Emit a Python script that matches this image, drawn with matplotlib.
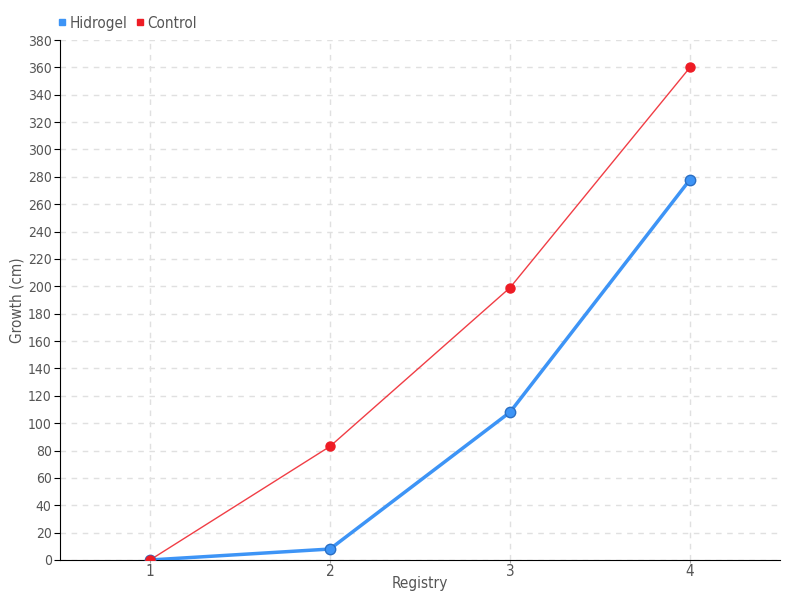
import matplotlib.pyplot as plt
from matplotlib.lines import Line2D

registry = [1, 2, 3, 4]
hidrogel = [0, 8, 108, 278]
control = [0, 83, 199, 360]
y_ticks = list(range(0, 381, 20))

blue = '#3d94f6'
red = '#ee1c25'
text_col = '#555555'

plt.rcParams['font.family'] = ['DejaVu Sans']
plt.rcParams['font.stretch'] = 'condensed'

fig = plt.figure(figsize=(8, 6), dpi=100)
ax = fig.add_axes([0.075, 0.0667, 0.9, 0.8666])

ax.plot(registry, control, color=red, lw=1, alpha=0.85, zorder=3)
ax.plot(registry, hidrogel, color=blue, lw=2.5, zorder=5)
ax.plot(registry, hidrogel, 'o', color=blue, ms=7.5, mec='#2a6fc4', mew=1, zorder=6)
ax.plot(registry, control, 'o', color=red, ms=6.5, mec=red, zorder=7)

ax.set_xlim(0.5, 4.5)
ax.set_ylim(0, 380)
ax.set_xticks(registry)
ax.set_yticks(y_ticks)
ax.grid(True, color='#e0e0e0', ls=(0, (4, 4)), lw=1)
ax.set_axisbelow(True)
for s in ['top', 'right']:
    ax.spines[s].set_visible(False)
ax.spines['left'].set_color('black')
ax.spines['bottom'].set_color('black')
ax.tick_params(axis='y', length=4, pad=2, colors='black', labelcolor=text_col, labelsize=10)
ax.tick_params(axis='x', length=2, pad=1, colors='#aaaaaa', labelcolor=text_col, labelsize=11)
ax.set_xlabel('Registry', color=text_col, fontsize=11, labelpad=-2)
ax.set_ylabel('Growth (cm)', color=text_col, fontsize=11)
ax.yaxis.set_label_coords(-0.049, 0.5)

handles = [Line2D([], [], ls='', marker='s', color=blue, ms=4.5),
           Line2D([], [], ls='', marker='s', color=red, ms=4.5)]
fig.legend(handles, ['Hidrogel', 'Control'], loc='upper left',
           bbox_to_anchor=(0.054, 0.997), ncol=2, frameon=False,
           handletextpad=0.1, columnspacing=0.5, handlelength=0.7,
           fontsize=11, labelcolor=text_col)

fig.savefig('out.png', dpi=100)
